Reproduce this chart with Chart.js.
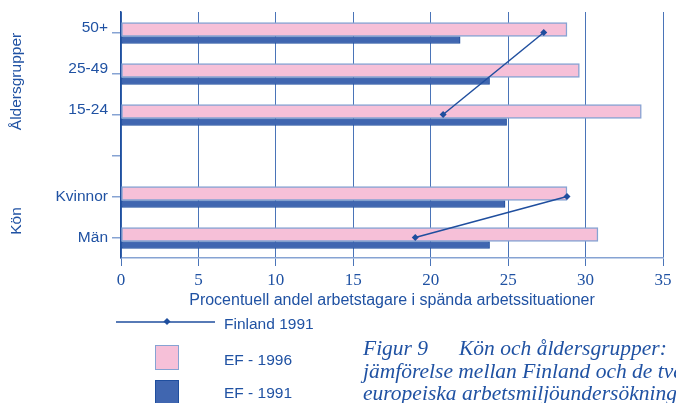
<!DOCTYPE html>
<html lang="sv">
<head>
<meta charset="utf-8">
<title>Figur 9 – Kön och åldersgrupper</title>
<script src="https://cdn.jsdelivr.net/npm/chart.js@4/dist/chart.umd.min.js"></script>
<style>
	html, body { margin: 0; padding: 0; background: #fff; overflow: hidden; }
	#wrap { position: relative; width: 676px; height: 403px; overflow: hidden; }
	#chart { position: absolute; left: 0; top: 0; }
	.legend-text {
		position: absolute; left: 224px;
		font: 15.5px "Liberation Sans", Arial, sans-serif; color: #2052a3;
		line-height: 18px; white-space: nowrap;
	}
	.legend-box { position: absolute; left: 155px; width: 24px; height: 25px; box-sizing: border-box; }
	#caption {
		position: absolute; left: 363px; top: 337px;
		font: italic 21.5px "Liberation Serif", "Times New Roman", serif; color: #2052a3;
		line-height: 22.5px; white-space: nowrap;
	}
	#caption .fig { display: inline-block; width: 96px; }
</style>
</head>
<body>
<div id="wrap">
	<canvas id="chart" width="676" height="403"></canvas>

	<svg style="position:absolute;left:116px;top:317px" width="100" height="10">
		<line x1="0" y1="5" x2="99" y2="5" stroke="#1f4e9e" stroke-width="1.5" />
		<rect x="48.5" y="2" width="5" height="5" fill="#1f4e9e" transform="rotate(45 51 4.5)" />
	</svg>
	<div class="legend-text" style="top:315px">Finland 1991</div>

	<div class="legend-box" style="top:345px;background:#f6c0d8;border:1.5px solid #86a3d3"></div>
	<div class="legend-text" style="top:351px">EF - 1996</div>

	<div class="legend-box" style="top:380px;background:#4066b0;border:1.5px solid #1f4e9e"></div>
	<div class="legend-text" style="top:384px">EF - 1991</div>

	<div id="caption">
		<div><span class="fig">Figur 9</span>Kön och åldersgrupper:</div>
		<div>jämförelse mellan Finland och de två</div>
		<div>europeiska arbetsmiljöundersökningarna</div>
	</div>
</div>

<script>
// Categories, top to bottom. The empty one is the gap between the two groups.
const ageGroups = ["50+", "25-49", "15-24"]
const genders = ["Kvinnor", "Män"]
const categories = [...ageGroups, "", ...genders]

// Percent of employees in strained work situations
const ef1996 = [28.8, 29.6, 33.6, null, 28.8, 30.8]
const ef1991 = [21.9, 23.8, 24.9, null, 24.8, 23.8]
const finlandAge = [27.3, null, 20.8, null, null, null]
const finlandGender = [null, null, null, null, 28.8, 19.0]

const xTicks = [0, 5, 10, 15, 20, 25, 30, 35]

const NAVY = "#1f4e9e"
const TEXT = "#2052a3"
const GRID = "#4a74b8"
const LIGHT = "#86a3d3"
const PINK = "#f6c0d8"
const DARK = "#4066b0"
const SANS = "'Liberation Sans', Arial, sans-serif"

const toPoints = (values) => values
	.map((x, y) => (x === null ? null : { x, y }))
	.filter(Boolean)

/**
 * Hidden index axis for one bar series. The shift (in categories) moves the
 * bars off the category tick: the pink bar sits just above, the thin one below.
 */
const barAxis = (shift) => ({
	type: "linear",
	display: false,
	offset: false,
	reverse: true,
	min: -0.5 - shift,
	max: categories.length - 0.5 - shift,
	afterBuildTicks: (scale) => { scale.ticks = categories.map((_, value) => ({ value })) }
})

/**
 * Draws the category labels and the two rotated group titles.
 */
const sideLabels = {
	id: "sideLabels",
	afterDraw(chart) {
		const { ctx } = chart
		const y = chart.scales.y
		ctx.save()
		ctx.fillStyle = TEXT
		ctx.font = `15.5px ${SANS}`
		ctx.textAlign = "right"
		ctx.textBaseline = "middle"
		categories.forEach((label, i) => {
			const lift = ageGroups.includes(label) ? -5 : 0
			ctx.fillText(label, y.right - 13, y.getPixelForValue(i) + lift)
		})

		const title = (text, cy) => {
			ctx.save()
			ctx.translate(17, cy)
			ctx.rotate(-Math.PI / 2)
			ctx.textAlign = "center"
			ctx.fillText(text, 0, 0)
			ctx.restore()
		}
		title("Åldersgrupper", y.getPixelForValue(1) + 8)
		title("Kön", (y.getPixelForValue(4) + y.getPixelForValue(5)) / 2 + 4)
		ctx.restore()
	}
}

new Chart(document.querySelector("#chart"), {
	type: "bar",
	data: {
		labels: categories,
		datasets: [
			{
				label: "EF - 1996",
				data: toPoints(ef1996),
				yAxisID: "yPink",
				grouped: false,
				barPercentage: 1,
				categoryPercentage: 1,
				maxBarThickness: 14,
				backgroundColor: PINK,
				borderColor: LIGHT,
				borderWidth: 1.5,
				borderSkipped: false,
				order: 1
			},
			{
				label: "EF - 1991",
				data: toPoints(ef1991),
				yAxisID: "yDark",
				grouped: false,
				barPercentage: 1,
				categoryPercentage: 1,
				maxBarThickness: 7,
				backgroundColor: DARK,
				borderColor: NAVY,
				borderWidth: 1,
				borderSkipped: false,
				order: 1
			},
			{
				type: "line",
				label: "Finland 1991",
				data: finlandAge,
				yAxisID: "y",
				spanGaps: true,
				borderColor: NAVY,
				borderWidth: 1.5,
				pointStyle: "rectRot",
				pointRadius: 3.5,
				pointBackgroundColor: NAVY,
				pointBorderWidth: 0,
				order: 0
			},
			{
				type: "line",
				label: "Finland 1991",
				data: finlandGender,
				yAxisID: "y",
				borderColor: NAVY,
				borderWidth: 1.5,
				pointStyle: "rectRot",
				pointRadius: 3.5,
				pointBackgroundColor: NAVY,
				pointBorderWidth: 0,
				order: 0
			}
		]
	},
	options: {
		indexAxis: "y",
		responsive: false,
		animation: false,
		devicePixelRatio: 1,
		layout: { padding: { top: 12, right: 13, bottom: 93, left: 0 } },
		plugins: {
			legend: { display: false },
			tooltip: { enabled: false }
		},
		scales: {
			x: {
				type: "linear",
				position: "bottom",
				min: 0,
				max: 35,
				afterBuildTicks: (scale) => { scale.ticks = xTicks.map((value) => ({ value })) },
				afterFit: (scale) => { scale.height = 52 },
				grid: { color: GRID, lineWidth: 1, tickLength: 8 },
				border: { color: LIGHT, width: 1.5 },
				ticks: {
					color: TEXT,
					padding: 4,
					font: { family: "'Liberation Serif', 'Times New Roman', serif", size: 17 }
				},
				title: {
					display: true,
					text: "Procentuell andel arbetstagare i spända arbetssituationer",
					color: TEXT,
					font: { family: SANS, size: 16 },
					padding: { top: 0, bottom: 0 }
				}
			},
			y: {
				type: "category",
				offset: true,
				afterFit: (scale) => { scale.width = 121 },
				grid: { offset: false, drawOnChartArea: false, tickLength: 9, color: LIGHT, lineWidth: 1.5 },
				border: { color: NAVY, width: 1.5 },
				ticks: { display: false }
			},
			yPink: barAxis(-0.073),
			yDark: barAxis(0.183)
		}
	},
	plugins: [sideLabels]
})
</script>
</body>
</html>
